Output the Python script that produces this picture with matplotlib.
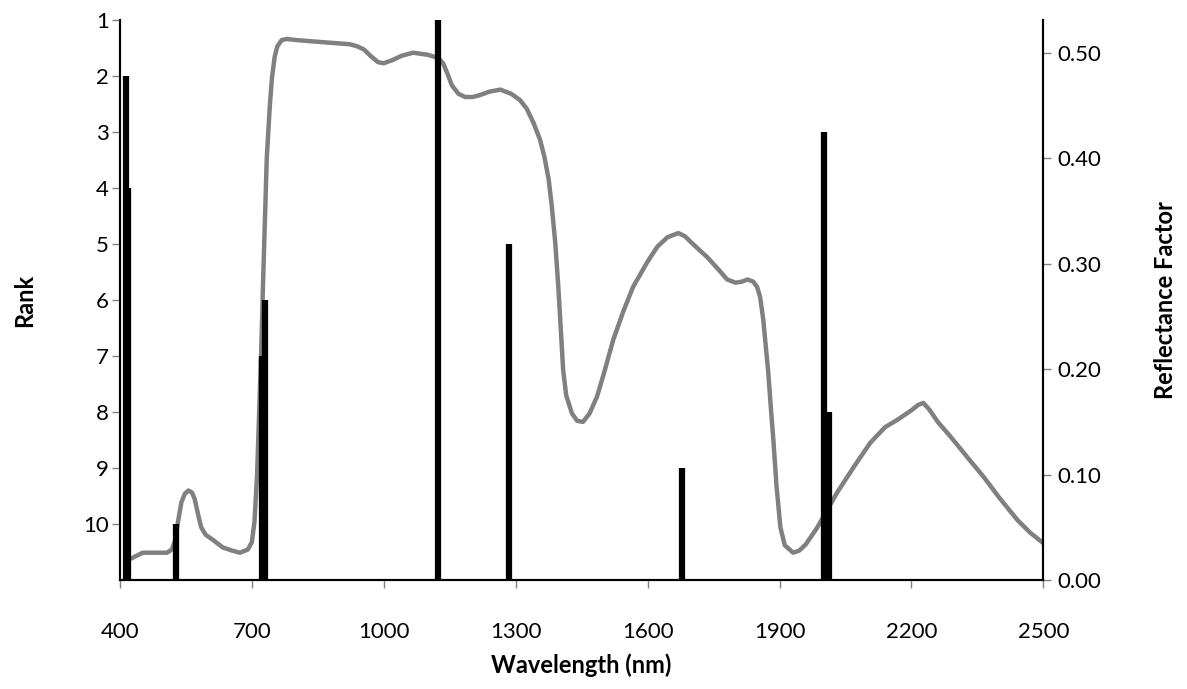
import matplotlib
matplotlib.use("Agg")
import matplotlib.pyplot as plt

# bar positions (nm) and their rank
bar_wl = [414, 419, 527, 723, 730, 1124, 1285, 1679, 2002, 2013]
bar_rank = [2, 4, 10, 7, 6, 1, 5, 9, 3, 8]

# reflectance spectrum
wl = [423, 452, 480, 507, 518, 526, 532, 540, 548, 556, 564, 570, 578, 585,
      595, 612, 634, 655, 673, 691, 700, 706, 712, 721, 726, 734, 741, 746,
      752, 758, 768, 780, 800, 860, 923, 940, 955, 970, 987, 1000, 1020,
      1040, 1067, 1100, 1124, 1135, 1145, 1155, 1170, 1185, 1203, 1220,
      1240, 1265, 1290, 1310, 1325, 1340, 1355, 1365, 1375, 1382, 1390,
      1397, 1403, 1408, 1415, 1428, 1440, 1453, 1468, 1485, 1500, 1522,
      1545, 1567, 1600, 1622, 1645, 1670, 1685, 1697, 1715, 1736, 1760,
      1781, 1800, 1815, 1827, 1840, 1849, 1856, 1863, 1868, 1874, 1880,
      1886, 1893, 1902, 1912, 1931, 1945, 1960, 1986, 2005, 2031, 2070,
      2106, 2140, 2168, 2200, 2215, 2227, 2240, 2260, 2289, 2330, 2364,
      2400, 2441, 2470, 2500]
refl = [0.020, 0.026, 0.026, 0.026, 0.029, 0.038, 0.055, 0.074, 0.082,
        0.085, 0.083, 0.077, 0.062, 0.050, 0.043, 0.038, 0.031, 0.028,
        0.026, 0.029, 0.036, 0.055, 0.100, 0.213, 0.288, 0.400, 0.450,
        0.477, 0.496, 0.506, 0.512, 0.513, 0.512, 0.510, 0.508, 0.506,
        0.503, 0.497, 0.491, 0.490, 0.493, 0.497, 0.500, 0.498, 0.495,
        0.490, 0.480, 0.469, 0.461, 0.458, 0.458, 0.460, 0.463, 0.465,
        0.461, 0.455, 0.447, 0.434, 0.418, 0.402, 0.380, 0.355, 0.320,
        0.278, 0.235, 0.199, 0.175, 0.158, 0.151, 0.150, 0.158, 0.174,
        0.195, 0.228, 0.255, 0.278, 0.302, 0.316, 0.325, 0.329, 0.326,
        0.321, 0.314, 0.306, 0.295, 0.285, 0.282, 0.283, 0.285, 0.283,
        0.278, 0.268, 0.247, 0.225, 0.199, 0.165, 0.133, 0.090, 0.050,
        0.033, 0.026, 0.028, 0.034, 0.050, 0.064, 0.083, 0.108, 0.130,
        0.145, 0.152, 0.161, 0.166, 0.168, 0.162, 0.150, 0.136, 0.115,
        0.098, 0.078, 0.057, 0.045, 0.035]

x_ticks = [400, 700, 1000, 1300, 1600, 1900, 2200, 2500]
rank_ticks = list(range(1, 11))
refl_ticks = [0.0, 0.1, 0.2, 0.3, 0.4, 0.5]

plt.rcParams['font.family'] = ['Lato', 'DejaVu Sans']

fig = plt.figure(figsize=(11.87, 6.89), dpi=100)
ax = fig.add_axes([0.101, 0.158, 0.778, 0.813])
ax2 = ax.twinx()

# curve sits behind the bars
ax2.set_zorder(ax.get_zorder() - 1)
ax.patch.set_visible(False)

ax2.plot(wl, refl, color='#808080', linewidth=3.2, solid_joinstyle='round',
         solid_capstyle='round')
ax.vlines(bar_wl, 11, bar_rank, colors='black', linewidth=4.5)

ax.set_xlim(400, 2500)
ax.set_ylim(11, 1)
ax2.set_ylim(0, 0.531)

ax.set_xticks(x_ticks)
ax.set_yticks(rank_ticks)
ax2.set_yticks(refl_ticks)
ax2.set_yticklabels(['{:.2f}'.format(v) for v in refl_ticks])

for a in (ax, ax2):
    a.spines['top'].set_visible(False)
    for s in a.spines.values():
        s.set_linewidth(1.5)
        s.set_color('black')
    a.tick_params(length=6, width=1, color='#808080', labelsize=16,
                  direction='out', pad=4)
ax.tick_params(axis='x', pad=24)
ax.tick_params(axis='y', pad=2)

ax.set_xlabel('Wavelength (nm)', fontsize=17, fontweight='bold', labelpad=8)
ax.set_ylabel('Rank', fontsize=17, fontweight='bold', labelpad=34)
ax2.set_ylabel('Reflectance Factor', fontsize=17, fontweight='bold',
               labelpad=38)

fig.savefig('out.png', dpi=100)
